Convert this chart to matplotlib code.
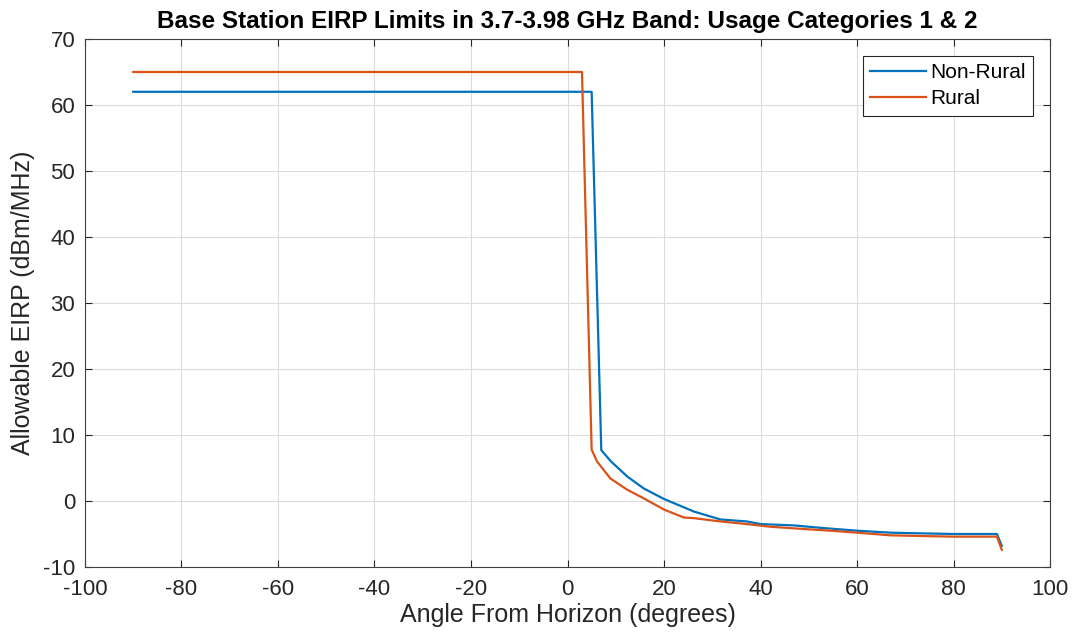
import matplotlib.pyplot as plt

plt.rcParams['font.family'] = ['Liberation Sans', 'DejaVu Sans']
plt.rcParams['axes.unicode_minus'] = False

# Non-Rural curve (angle in degrees, EIRP in dBm/MHz)
nonrural_x = [-90, 5, 7, 9, 12.4, 15.8, 20, 26.2, 31.7, 37.2, 40, 46.9, 53,
              60, 66.9, 73, 80, 89, 90]
nonrural_y = [62, 62, 7.7, 6.0, 3.7, 1.9, 0.3, -1.6, -2.8, -3.1, -3.5, -3.7,
              -4.1, -4.5, -4.8, -4.9, -5.0, -5.0, -6.8]

# Rural curve
rural_x = [-90, 3, 5, 6.1, 8.9, 12.4, 15.8, 20, 24.1, 26.2, 31.7, 37.2, 42,
           48, 54.5, 60, 66.9, 73, 80, 89, 90]
rural_y = [65, 65, 7.8, 6.0, 3.4, 1.7, 0.4, -1.3, -2.5, -2.6, -3.1, -3.5,
           -3.9, -4.2, -4.5, -4.8, -5.2, -5.3, -5.4, -5.4, -7.4]

fig = plt.figure(figsize=(10.73, 6.38), dpi=100)
ax = fig.add_axes([0.0792, 0.1113, 0.8994, 0.8276])

ax.plot(nonrural_x, nonrural_y, color='#0072BD', lw=1.6, label='Non-Rural')
ax.plot(rural_x, rural_y, color='#D95319', lw=1.6, label='Rural')

ax.set_xlim(-100, 100)
ax.set_ylim(-10, 70)
ax.set_xticks(range(-100, 101, 20))
ax.set_yticks(range(-10, 71, 10))
ax.grid(True, color='#dcdcdc', lw=0.8)
ax.set_axisbelow(True)
for s in ax.spines.values():
    s.set_color('#404040')
    s.set_linewidth(0.8)
ax.tick_params(direction='in', top=True, right=True, labelsize=16,
               colors='#262626', length=5)
ax.tick_params(axis='x', pad=9)
ax.tick_params(axis='y', pad=7)

ax.set_xlabel('Angle From Horizon (degrees)', fontsize=18, color='#262626',
              labelpad=2)
ax.set_ylabel('Allowable EIRP (dBm/MHz)', fontsize=18, color='#262626',
              labelpad=6)
ax.set_title('Base Station EIRP Limits in 3.7-3.98 GHz Band: Usage Categories 1 & 2',
             fontsize=17.5, fontweight='bold', pad=8)

leg = ax.legend(loc='upper right', fontsize=15, handlelength=2.7,
                fancybox=False, framealpha=1, edgecolor='#262626',
                borderaxespad=0.8, borderpad=0.35, labelspacing=0.35,
                handletextpad=0.2)
leg.get_frame().set_linewidth(0.8)

fig.savefig('out.png', dpi=100)
